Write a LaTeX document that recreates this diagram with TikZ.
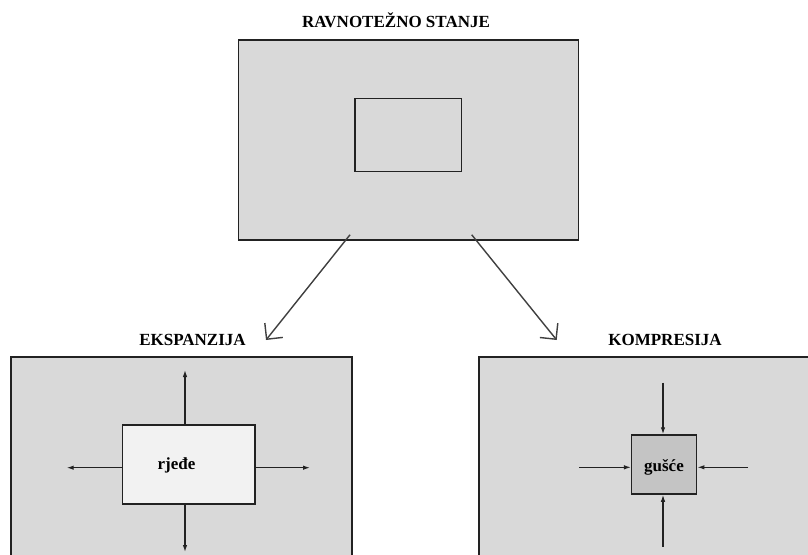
\documentclass[tikz,border=0pt]{standalone}
\usepackage{fontspec}
\setmainfont{Liberation Serif}
\usetikzlibrary{arrows.meta}
\definecolor{boxgray}{HTML}{D9D9D9}
\definecolor{lightin}{HTML}{F2F2F2}
\definecolor{darkin}{HTML}{C4C4C4}
\definecolor{edge}{HTML}{222222}
\definecolor{arrgray}{HTML}{404040}
\tikzset{
  outerbox/.style={draw=edge, line width=1.5pt, fill=boxgray, inner sep=0pt},
  innerbox/.style={draw=edge, line width=1.5pt, inner sep=0pt},
  titletext/.style={font=\bfseries\fontsize{17}{19}\selectfont, inner sep=0pt},
  intext/.style={font=\bfseries\fontsize{17}{19}\selectfont, inner sep=0pt},
  bigarrow/.style={draw=arrgray, line width=1.4pt, -{Straight Barb[length=11.5pt,width=23pt,line width=1.4pt]}},
  smallarrow/.style={draw=edge, line width=1.2pt, -{Latex[length=7pt,width=4.5pt]}}
}
\begin{document}
\begin{tikzpicture}[x=1pt,y=-1pt]
\useasboundingbox (0,0) rectangle (808,554);
\fill[white] (0,0) rectangle (808,554);
\clip (0,0) rectangle (808,554);
% top
\node[titletext] (ttitle) at (396,20.5) {RAVNOTEŽNO STANJE};
\node[outerbox, minimum width=340pt, minimum height=200pt] (top) at (408.3,140) {};
\node[innerbox, minimum width=106.7pt, minimum height=73.3pt] (topin) at (408.3,135) {};
% left
\node[titletext] (ltitle) at (192.5,340) {EKSPANZIJA};
\node[outerbox, minimum width=341pt, minimum height=250pt, anchor=north west] (left) at (10,356) {};
\node[innerbox, fill=lightin, minimum width=132.3pt, minimum height=79pt] (leftin) at (188.8,464.5) {};
\node[intext] (rjede) at (176.5,465) {rjeđe};
% right
\node[titletext] (rtitle) at (665,340) {KOMPRESIJA};
\node[outerbox, minimum width=360pt, minimum height=250pt, anchor=north west] (right) at (478,356) {};
\node[innerbox, fill=darkin, minimum width=65pt, minimum height=59pt] (rightin) at (664.2,464.5) {};
\node[intext] (gusce) at (664,467) {gušće};
% big arrows
\coordinate (la) at (266,340);
\coordinate (ra) at (556.7,340);
\draw[bigarrow] ([xshift=-58.3pt,yshift=6pt]top.south) -- (la);
\draw[bigarrow] ([xshift=63.4pt,yshift=6pt]top.south) -- (ra);
% expansion arrows
\coordinate (lu) at (185,370);
\coordinate (ld) at (185,552);
\coordinate (ll) at (66.7,467.7);
\coordinate (lr) at (310,467.7);
\draw[smallarrow] (185,425) -- (lu);
\draw[smallarrow] (185,504) -- (ld);
\draw[smallarrow] (leftin.west |- ll) -- (ll);
\draw[smallarrow] (leftin.east |- lr) -- (lr);
% compression arrows
\coordinate (cu) at (663,382.7);
\coordinate (cd) at (663,546.7);
\coordinate (cl) at (579,467.3);
\coordinate (cr) at (748,467.3);
\draw[smallarrow] (cu) -- (cu |- rightin.north);
\draw[smallarrow] (cd) -- (cd |- rightin.south);
\draw[smallarrow] (cl) -- (rightin.west |- cl);
\draw[smallarrow] (cr) -- (rightin.east |- cr);
\end{tikzpicture}
\end{document}
